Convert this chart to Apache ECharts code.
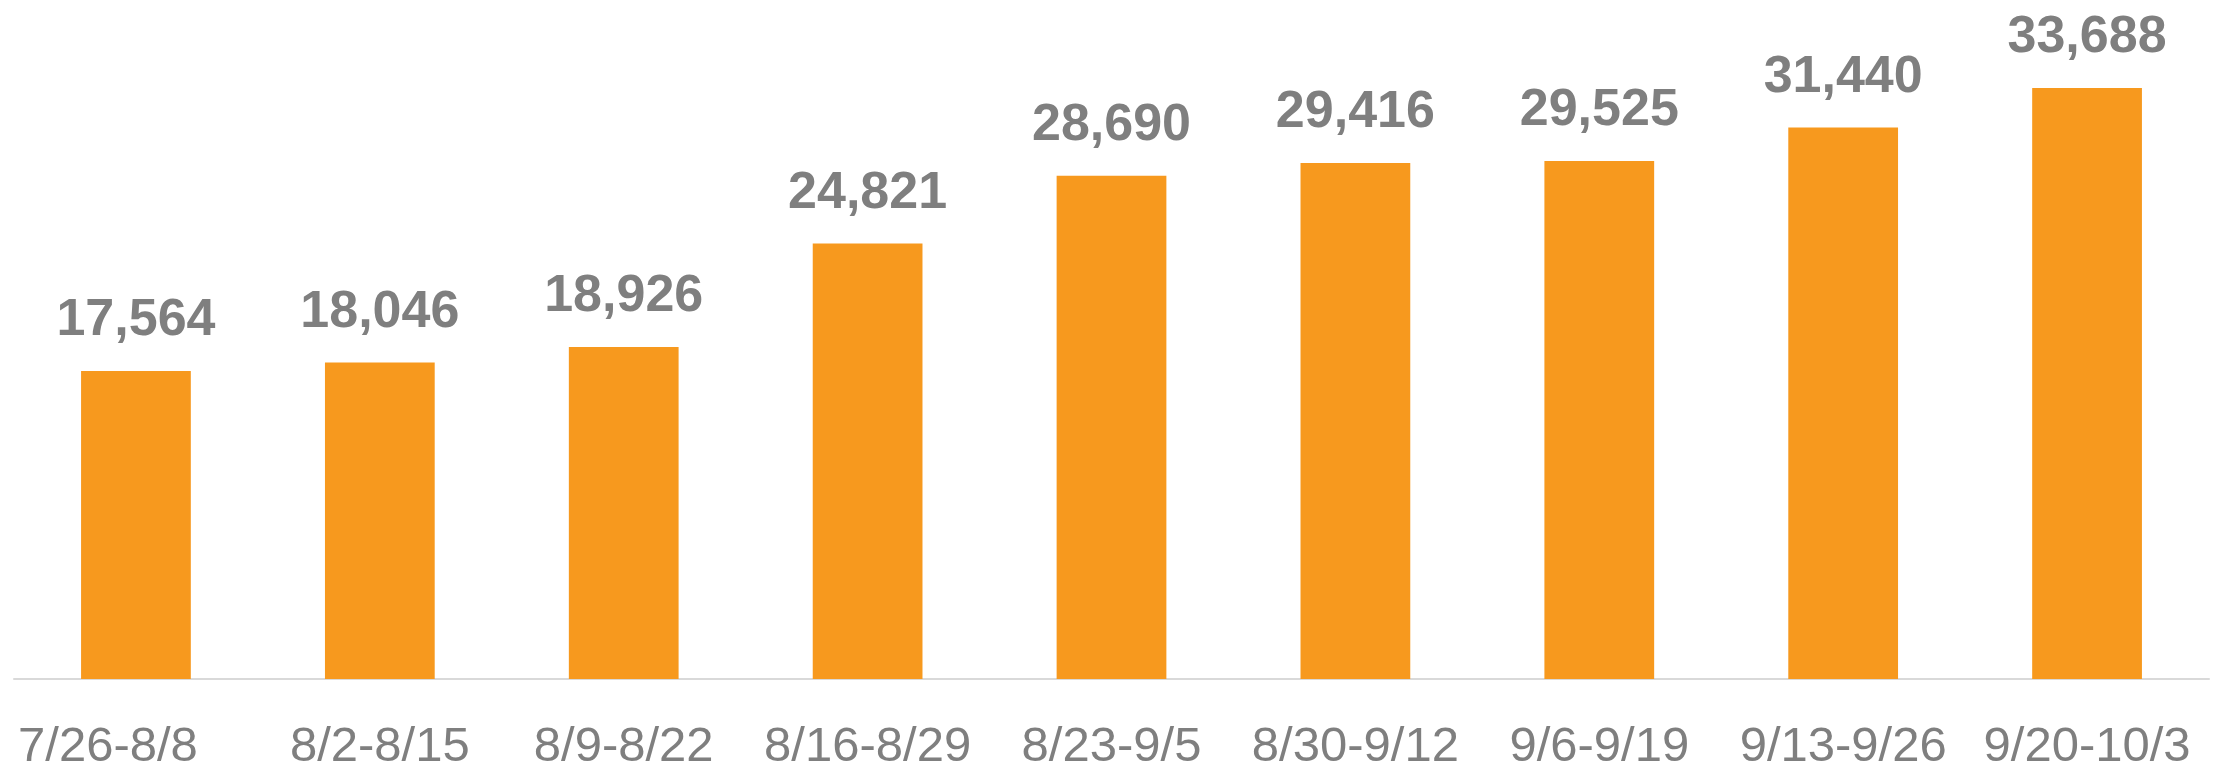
<!DOCTYPE html>
<html>
<head>
<meta charset="utf-8">
<style>
  html, body { margin: 0; padding: 0; background: #fff; }
  #chart { width: 2231px; height: 778px; }
</style>
<script src="https://cdn.jsdelivr.net/npm/echarts@6/dist/echarts.min.js"></script>
</head>
<body>
<div id="chart"></div>
<script>
const weeks = ["7/26-8/8", "8/2-8/15", "8/9-8/22", "8/16-8/29", "8/23-9/5",
  "8/30-9/12", "9/6-9/19", "9/13-9/26", "9/20-10/3"];
const counts = [17564, 18046, 18926, 24821, 28690, 29416, 29525, 31440, 33688];

const chart = echarts.init(document.getElementById("chart"));

const labelFont = {
  color: "#7f7f7f",
  fontSize: 49,
  fontFamily: "Liberation Sans",
};

const option = {
  backgroundColor: "#fff",
  animation: false,
  grid: {
    left: 14,
    right: 22,
    top: 65,
    bottom: 99,
    containLabel: false,
  },
  xAxis: {
    type: "category",
    data: weeks,
    axisLine: {
      lineStyle: { color: "#d9d9d9", width: 2 },
    },
    axisTick: { show: false },
    axisLabel: {
      ...labelFont,
      margin: 44,
      interval: 0,
      // the first label sits a little left of its bar in the original
      formatter: (v, i) => (i === 0 ? `{first|${v}}` : v),
      rich: {
        first: { ...labelFont, padding: [0, 56, 0, 0] },
      },
    },
  },
  yAxis: {
    type: "value",
    min: 0,
    max: 35000,
    show: false,
    splitLine: { show: false },
  },
  series: [
    {
      type: "bar",
      data: counts,
      barWidth: "45%",
      itemStyle: { color: "#f7991e" },
      label: {
        show: true,
        position: "top",
        distance: 24,
        color: "#7f7f7f",
        fontSize: 52,
        fontWeight: "bold",
        fontFamily: "Liberation Sans",
        formatter: (p) => p.value.toLocaleString("en-US"),
      },
    },
  ],
};

chart.setOption(option);
window.addEventListener("resize", () => chart.resize());
</script>
</body>
</html>
